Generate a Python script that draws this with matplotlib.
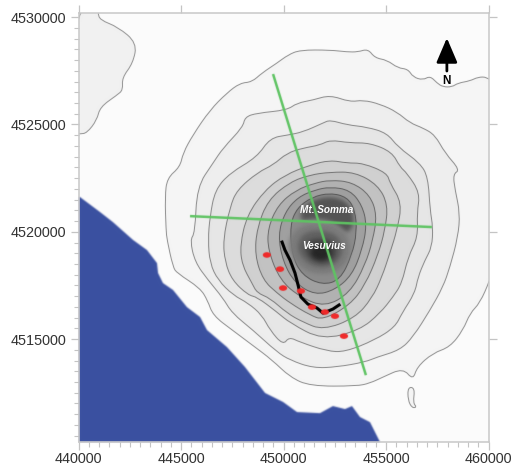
import numpy as np
import matplotlib
matplotlib.use("Agg")
import matplotlib.pyplot as plt
from matplotlib.patches import Ellipse, PathPatch
from matplotlib.path import Path
from matplotlib.ticker import MultipleLocator

plt.rcParams["font.family"] = ["Liberation Sans", "DejaVu Sans"]

# all coordinates are (easting, northing) in km
sea = [(439.9, 4521.62), (440.07, 4521.62), (441.05, 4520.92), (441.68, 4520.45), (442.66, 4519.62),
       (443.34, 4519.15), (443.83, 4518.54), (443.88, 4518.08), (444.12, 4517.61), (444.61, 4517.29),
       (445.29, 4516.49), (445.93, 4516.03), (446.27, 4515.42), (447.24, 4514.63), (448.12, 4513.70),
       (449.10, 4512.49), (449.98, 4512.07), (450.66, 4511.60), (451.78, 4511.55), (452.41, 4511.88),
       (453.00, 4511.74), (453.34, 4511.88), (453.73, 4511.37), (454.22, 4511.13), (454.71, 4510.20),
       (454.71, 4510.0), (439.9, 4510.0)]

hill_nw = [(440.95, 4530.4), (440.95, 4530.19), (441.05, 4529.87), (441.93, 4529.54), (442.85, 4528.80),
           (442.66, 4527.86), (442.12, 4527.17), (442.17, 4526.61), (441.88, 4526.37), (441.05, 4525.81),
           (440.90, 4525.21), (440.41, 4524.60), (440.07, 4524.56), (439.8, 4524.56), (439.8, 4530.4)]

islet = [(456.07, 4512.77), (456.41, 4512.72), (456.32, 4512.02), (456.51, 4511.83),
         (456.27, 4511.79), (456.07, 4512.16)]

contour_1 = [(460.22, 4526.93), (459.93, 4527.21), (459.49, 4527.21), (459.10, 4527.03), (458.51, 4526.93),
             (458.22, 4526.75), (457.78, 4526.75), (457.49, 4526.93), (457.15, 4527.26), (456.80, 4527.07),
             (456.32, 4527.21), (456.07, 4527.58), (455.58, 4527.63), (455.05, 4528.00), (454.46, 4528.10),
             (454.12, 4528.52), (453.63, 4528.38), (453.10, 4528.38), (452.27, 4528.47), (450.80, 4528.47),
             (450.22, 4528.24), (449.68, 4527.86), (448.95, 4527.40), (448.46, 4526.98), (447.88, 4526.93),
             (447.24, 4526.47), (446.41, 4525.67), (445.58, 4524.51), (445.10, 4523.67), (444.95, 4523.02),
             (444.32, 4522.50), (444.22, 4521.62), (444.27, 4520.08), (444.32, 4519.62), (444.61, 4518.36),
             (444.80, 4518.08), (445.93, 4517.38), (446.30, 4516.80), (446.56, 4516.10), (447.53, 4515.40),
             (448.51, 4514.70), (449.44, 4514.03), (450.32, 4513.23), (451.29, 4512.81), (453.58, 4512.81),
             (454.22, 4512.95), (454.85, 4513.23), (455.83, 4513.65), (456.32, 4513.09), (456.51, 4513.70),
             (457.29, 4514.35), (458.12, 4514.63), (458.76, 4515.42), (459.10, 4516.21), (459.58, 4516.68),
             (460.07, 4517.75), (460.22, 4518.31)]

contour_2 = [(452.27, 4526.37), (453.24, 4526.05), (453.88, 4526.14), (454.71, 4525.95), (455.54, 4525.58),
             (456.17, 4525.07), (456.80, 4524.84), (457.39, 4524.51), (457.88, 4523.67), (458.61, 4522.88),
             (458.27, 4522.69), (458.37, 4521.95), (458.61, 4520.87), (458.51, 4519.76), (458.12, 4518.36),
             (457.78, 4517.43), (457.15, 4516.35), (456.32, 4515.10), (455.68, 4514.49), (454.56, 4514.16),
             (453.97, 4513.93), (452.61, 4513.70), (451.44, 4513.65), (450.32, 4514.02), (449.68, 4514.40),
             (448.51, 4515.42), (447.49, 4516.21), (447.05, 4516.91), (446.32, 4517.75), (445.68, 4518.59),
             (445.44, 4519.62), (445.68, 4519.94), (445.78, 4522.09), (446.56, 4523.20), (447.05, 4523.90),
             (448.02, 4524.88), (448.12, 4525.35), (448.71, 4525.53), (450.17, 4525.67), (450.66, 4526.00),
             (451.44, 4526.14)]

contour_3 = [(452.27, 4525.21), (453.10, 4524.98), (454.07, 4524.88), (455.05, 4524.60), (455.58, 4523.95),
             (456.66, 4523.20), (457.05, 4522.55), (457.15, 4521.01), (457.29, 4520.22), (457.24, 4519.29),
             (456.90, 4518.68), (456.56, 4517.89), (456.41, 4517.15), (455.78, 4516.21), (455.44, 4515.56),
             (454.46, 4514.96), (453.00, 4514.40), (452.12, 4514.44), (450.80, 4514.86), (450.27, 4515.10),
             (449.98, 4514.72), (449.34, 4515.42), (448.95, 4516.12), (448.27, 4516.68), (447.54, 4517.05),
             (446.80, 4517.75), (446.41, 4518.54), (446.32, 4519.62), (446.41, 4520.69), (446.66, 4521.95),
             (447.39, 4522.74), (448.71, 4523.48), (449.34, 4524.37), (450.22, 4524.51), (450.95, 4524.65),
             (451.93, 4525.07)]

contour_4 = [(452.27, 4524.28), (453.24, 4524.14), (454.22, 4524.14), (455.29, 4523.72), (455.68, 4523.02),
             (456.02, 4522.74), (456.66, 4521.81), (456.51, 4520.87), (456.56, 4519.76), (456.07, 4518.82),
             (455.78, 4517.61), (455.34, 4516.96), (454.71, 4516.21), (453.73, 4515.42), (451.88, 4514.96),
             (450.32, 4515.75), (449.68, 4516.26), (448.71, 4516.96), (448.27, 4517.05), (447.49, 4517.75),
             (447.15, 4518.59), (447.05, 4519.62), (447.39, 4521.15), (447.73, 4521.95), (448.76, 4522.78),
             (449.49, 4523.11), (450.17, 4523.67), (450.95, 4523.90), (451.78, 4524.04)]

contour_5 = [(452.27, 4523.34), (453.10, 4523.20), (453.88, 4523.20), (455.05, 4522.74), (455.19, 4522.27),
             (455.78, 4521.34), (455.54, 4520.08), (455.19, 4519.01), (454.80, 4517.89), (454.32, 4516.91),
             (453.49, 4515.98), (451.93, 4515.42), (450.95, 4515.79), (450.17, 4516.21), (449.34, 4516.91),
             (448.71, 4517.15), (448.46, 4517.61), (447.98, 4518.45), (447.88, 4519.38), (448.22, 4520.78),
             (449.10, 4521.95), (450.07, 4522.65), (451.29, 4523.11)]

contour_6 = [(452.27, 4522.78), (453.49, 4522.78), (454.61, 4522.18), (455.10, 4521.25), (454.95, 4520.08),
             (454.61, 4518.92), (453.98, 4517.52), (453.24, 4516.59), (451.93, 4515.89), (451.29, 4516.12),
             (450.32, 4516.68), (449.68, 4517.15), (449.00, 4517.75), (448.60, 4518.92), (448.71, 4520.18),
             (449.24, 4521.48), (450.32, 4522.32), (451.29, 4522.65)]

contour_7 = [(452.27, 4522.41), (453.34, 4522.32), (454.22, 4521.71), (454.56, 4520.78), (454.36, 4519.62),
             (453.98, 4518.45), (453.24, 4517.15), (452.02, 4516.49), (450.80, 4516.96), (449.83, 4517.75),
             (449.24, 4519.15), (449.24, 4520.18), (449.73, 4521.25), (450.61, 4521.95), (451.54, 4522.27)]

contour_8 = [(452.27, 4522.09), (453.24, 4521.95), (453.83, 4521.25), (454.07, 4520.32), (453.83, 4519.15),
             (453.34, 4517.98), (452.51, 4517.29), (451.54, 4517.05), (450.56, 4517.61), (449.98, 4518.59),
             (449.73, 4519.85), (450.07, 4520.92), (450.71, 4521.62), (451.54, 4521.95)]

contour_9 = [(452.27, 4521.81), (453.10, 4521.62), (453.49, 4521.01), (453.58, 4519.99), (453.34, 4518.92),
             (452.76, 4517.75), (451.88, 4517.52), (450.90, 4517.98), (450.41, 4518.92), (450.32, 4520.32),
             (450.66, 4521.11), (451.39, 4521.62)]

somma_ridge = [(451.39, 4521.48), (452.37, 4521.67), (453.24, 4521.34), (453.49, 4520.45), (453.10, 4519.85),
               (452.51, 4520.45), (451.54, 4520.64), (450.80, 4520.45), (450.90, 4521.11)]

cone_1 = [(451.78, 4520.45), (452.76, 4520.27), (453.24, 4519.62), (453.24, 4518.78), (452.66, 4518.12),
          (451.68, 4517.98), (450.80, 4518.31), (450.22, 4519.06), (450.32, 4519.85), (450.90, 4520.31)]
cone_2 = [(451.78, 4520.08), (452.51, 4519.94), (452.90, 4519.43), (452.85, 4518.82), (452.37, 4518.40),
          (451.68, 4518.31), (451.05, 4518.59), (450.66, 4519.15), (450.76, 4519.71), (451.19, 4520.03)]
cone_3 = [(451.78, 4519.71), (452.32, 4519.62), (452.61, 4519.24), (452.56, 4518.82), (452.17, 4518.54),
          (451.68, 4518.54), (451.24, 4518.78), (451.00, 4519.15), (451.10, 4519.48), (451.39, 4519.66)]
cone_4 = [(451.78, 4519.43), (452.22, 4519.29), (452.37, 4518.96), (452.07, 4518.68), (451.59, 4518.68),
          (451.29, 4518.96), (451.44, 4519.29)]

section_a = [(449.49, 4527.35), (454.02, 4513.32)]
section_b = [(445.44, 4520.73), (457.24, 4520.22)]

track = [(449.93, 4519.52), (450.07, 4519.15), (450.32, 4518.68), (450.56, 4518.08), (450.71, 4517.52),
         (450.85, 4516.96), (451.19, 4516.63), (451.63, 4516.45), (451.93, 4516.21), (452.41, 4516.40),
         (452.71, 4516.59)]

vents = [(449.19, 4518.92), (449.83, 4518.26), (449.98, 4517.38), (450.85, 4517.24),
         (451.39, 4516.49), (452.02, 4516.26), (452.51, 4516.07), (452.95, 4515.14)]

north_arrow = [(457.97, 4527.49), (457.97, 4529.03)]
north_label = (457.97, 4527.03)
somma_label = (452.12, 4521.01)
vesuvius_label = (451.97, 4519.34)


def xy(points):
    # km -> m, the axes are in metres
    a = np.array(points) * 1000
    return a[:, 0], a[:, 1]


def rounded_path(points):
    # closed path with the corners rounded off, vertices act as curve controls
    x, y = xy(points)
    p = np.column_stack([x, y])
    mid = (p + np.roll(p, -1, axis=0)) / 2
    verts = [mid[-1]]
    codes = [Path.MOVETO]
    for i in range(len(p)):
        verts += [p[i], mid[i]]
        codes += [Path.CURVE3, Path.CURVE3]
    return Path(verts, codes)


def blur(sigma):
    # the reference is a soft scan, soften artists the same way
    r = int(np.ceil(3 * sigma))
    k = np.exp(-0.5 * (np.arange(-r, r + 1) / sigma) ** 2)
    k /= k.sum()

    def conv(a):
        for axis in (0, 1):
            a = np.apply_along_axis(lambda v: np.convolve(v, k, mode="same"), axis, a)
        return a

    def f(img, dpi):
        img = np.pad(img, ((r, r), (r, r), (0, 0)))
        alpha = conv(img[:, :, 3])
        out = np.zeros_like(img)
        safe = np.maximum(alpha, 1e-4)
        for c in range(3):
            out[:, :, c] = np.clip(conv(img[:, :, c] * img[:, :, 3]) / safe, 0, 1)
        out[:, :, 3] = np.clip(alpha, 0, 1)
        return out, -r, -r

    return f


W, H = 528, 465
fig = plt.figure(figsize=(W / 100, H / 100), dpi=100, facecolor="white")
ax = fig.add_axes([78.5 / W, 1 - 441.7 / H, 410 / W, 428.4 / H])
ax.set_facecolor("#fbfbfb")

# contours, outermost first
contours = [
    (hill_nw, "#f1f1f1", "#8f8f8f"),
    (contour_1, "#f5f5f5", "#8c8c8c"),
    (contour_2, "#eeeeee", "#888888"),
    (contour_3, "#e6e6e6", "#848484"),
    (contour_4, "#dcdcdc", "#7e7e7e"),
    (contour_5, "#d0d0d0", "#787878"),
    (contour_6, "#c2c2c2", "#707070"),
    (contour_7, "#b2b2b2", "#686868"),
    (contour_8, "#a0a0a0", "#5e5e5e"),
    (contour_9, "#8c8c8c", "#555555"),
]
for pts, fill, edge in contours:
    patch = PathPatch(rounded_path(pts), facecolor=fill, edgecolor=edge, linewidth=0.7)
    patch.set_agg_filter(blur(0.4))
    ax.add_patch(patch)

patch = PathPatch(rounded_path(islet), facecolor="#f5f5f5", edgecolor="#8c8c8c", linewidth=0.7)
patch.set_agg_filter(blur(0.4))
ax.add_patch(patch)

for pts, fill in [(somma_ridge, "#555555"), (cone_1, "#7c7c7c"), (cone_2, "#626262"),
                  (cone_3, "#464646"), (cone_4, "#262626")]:
    patch = PathPatch(rounded_path(pts), facecolor=fill, edgecolor="none")
    patch.set_agg_filter(blur(2.2))
    ax.add_patch(patch)

x, y = xy(sea)
water = ax.fill(x, y, facecolor="#3a50a0", edgecolor="none", zorder=3)[0]
water.set_agg_filter(blur(0.7))

for line in (section_a, section_b):
    x, y = xy(line)
    ax.plot(x, y, color="#5fc463", linewidth=1.8, zorder=4, solid_capstyle="butt",
            agg_filter=blur(0.5))

x, y = xy(track)
ax.plot(x, y, color="black", linewidth=2.2, zorder=5, agg_filter=blur(0.4))

for ex, ny in vents:
    dot = Ellipse((ex * 1000, ny * 1000), 400, 260, facecolor="#f02a2a", edgecolor="none", zorder=6)
    dot.set_agg_filter(blur(0.5))
    ax.add_patch(dot)

ax.text(somma_label[0] * 1000, somma_label[1] * 1000, "Mt. Somma", color="white", fontsize=7.2,
        fontweight="bold", fontstyle="italic", ha="center", va="center", zorder=7)
ax.text(vesuvius_label[0] * 1000, vesuvius_label[1] * 1000, "Vesuvius", color="white", fontsize=7.2,
        fontweight="bold", fontstyle="italic", ha="center", va="center", zorder=7)

x, y = xy(north_arrow)
ax.annotate("", xy=(x[1], y[1]), xytext=(x[0], y[0]), zorder=7,
            arrowprops=dict(arrowstyle="-|>,head_width=0.32,head_length=0.75", color="black",
                            linewidth=2, mutation_scale=20, shrinkA=0, shrinkB=0))
ax.text(north_label[0] * 1000, north_label[1] * 1000, "N", color="black", fontsize=8.5,
        fontweight="bold", ha="center", va="center", zorder=7)

ax.set_xlim(440000, 460000)
ax.set_ylim(4510220, 4530180)
ax.xaxis.set_major_locator(MultipleLocator(5000))
ax.xaxis.set_minor_locator(MultipleLocator(500))
ax.yaxis.set_major_locator(MultipleLocator(5000))
ax.yaxis.set_minor_locator(MultipleLocator(500))
ax.ticklabel_format(useOffset=False, style="plain")

ax.tick_params(which="major", length=6, width=0.9, color="#c4c4c4", labelsize=10.4,
               labelcolor="#333333", pad=3, top=True, right=True)
ax.tick_params(axis="x", which="major", pad=1.5)
ax.tick_params(which="minor", length=3.5, width=0.8, color="#c4c4c4")
for spine in ax.spines.values():
    spine.set_color("#c8c8c8")
    spine.set_linewidth(1.1)
    spine.set_zorder(8)

fig.savefig("out.png", dpi=100)
